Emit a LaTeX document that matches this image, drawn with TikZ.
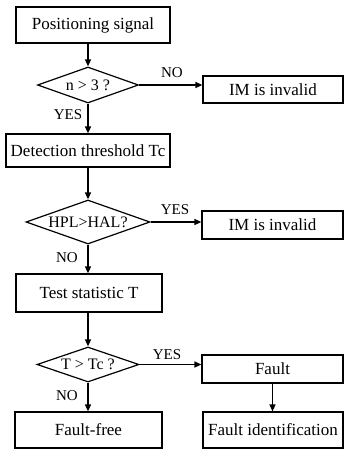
\documentclass[tikz,border=0pt]{standalone}
\usepackage{fontspec}
\setmainfont{Liberation Serif}
\usetikzlibrary{shapes.geometric,arrows.meta}

\tikzset{
  stepbox/.style={draw, line width=1.2pt, inner sep=0pt,
    font=\fontsize{17}{20}\selectfont},
  testbox/.style={draw, diamond, aspect=2.8, line width=1.2pt, inner sep=0pt,
    font=\fontsize{16}{19}\selectfont},
  flow/.style={line width=1.4pt, -{Triangle[length=7pt,width=6pt]}},
  answer/.style={font=\fontsize{15}{17}\selectfont}
}

\begin{document}
\begin{tikzpicture}[x=1pt, y=-1pt]
    \useasboundingbox (0,0) rectangle (345,450);

    % Main column
    \node[stepbox, minimum width=154pt, minimum height=36pt] (sig) at (93,25) {Positioning signal};
    \node[testbox, minimum width=101pt, minimum height=36pt] (nsat) at (88,85) {n > 3 ?};
    \node[stepbox, minimum width=164pt, minimum height=33pt] (thr) at (88,150.5) {Detection threshold Tc};
    \node[testbox, minimum width=124pt, minimum height=44pt] (hpl) at (88,222) {HPL>HAL?};
    \node[stepbox, minimum width=146pt, minimum height=38pt] (stat) at (89,293) {Test statistic T};
    \node[testbox, minimum width=102pt, minimum height=35pt] (cmp) at (88,364.5) {T > Tc ?};
    \node[stepbox, minimum width=147pt, minimum height=36pt] (free) at (88.5,430) {Fault-free};

    % Right column
    \node[stepbox, minimum width=140pt, minimum height=27pt] (inv1) at (273,89.5) {IM is invalid};
    \node[stepbox, minimum width=141pt, minimum height=28pt] (inv2) at (272.5,225) {IM is invalid};
    \node[stepbox, minimum width=141pt, minimum height=28pt] (fault) at (272.5,369) {Fault};
    \node[stepbox, minimum width=140pt, minimum height=36pt] (ident) at (273,430) {Fault identification};

    % Arrows
    \draw[flow] (sig.south -| nsat.north) -- (nsat.north);
    \draw[flow] (nsat.south) -- (thr.north -| nsat.south);
    \draw[flow] (thr.south) -- (hpl.north);
    \draw[flow] (hpl.south) -- (stat.north -| hpl.south);
    \draw[flow] (stat.south -| cmp.north) -- (cmp.north);
    \draw[flow] (cmp.south) -- (free.north -| cmp.south);
    \draw[flow] (nsat.east) -- (nsat.east -| inv1.west);
    \draw[flow] (hpl.east) -- (hpl.east -| inv2.west);
    \draw[flow] (cmp.east) -- (cmp.east -| fault.west);
    \draw[flow] (fault.south) -- (ident.north -| fault.south);

    % Branch labels
    \node[answer] (no1) at (172,73) {NO};
    \node[answer] (yes1) at (68,115) {YES};
    \node[answer] (yes2) at (175,210) {YES};
    \node[answer] (no2) at (67,258) {NO};
    \node[answer] (yes3) at (167,355) {YES};
    \node[answer] (no3) at (67,396) {NO};
\end{tikzpicture}
\end{document}
